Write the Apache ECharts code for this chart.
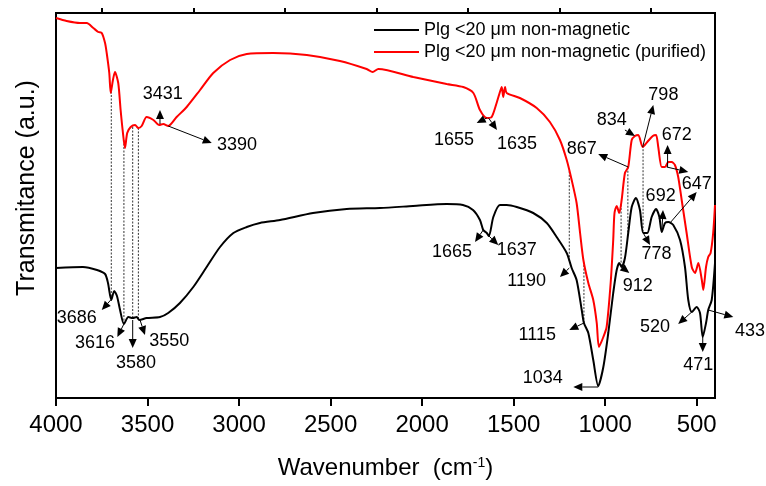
<!DOCTYPE html>
<html>
<head>
<meta charset="utf-8">
<script src="https://cdn.jsdelivr.net/npm/echarts@6/dist/echarts.min.js"></script>
<style>
  html, body { margin: 0; padding: 0; background: #fff; }
  #chart { width: 766px; height: 486px; }
</style>
</head>
<body>
<div id="chart"></div>
<script>
// FTIR spectra, wavenumber (cm-1) and transmittance (a.u., arbitrary scale)
var blackWn = [4000,3853,3776,3732,3716,3698,3682,3667,3650,3629,3605,3581,3559,3545,3505,3432,3387,3323,3250,3177,
  3104,3031,2958,2886,2776,2596,2412,2230,2050,1866,1777,1722,1684,1666,1647,1635,1611,1575,1538,1483,
  1393,1319,1265,1210,1183,1156,1128,1116,1092,1065,1038,1010,983,956,937,923,910,892,874,855,
  832,810,792,770,746,722,704,691,673,655,628,591,564,546,527,500,482,467,449,437,418,400];
var blackT = [130,131,128,124,115,98,107,102,88,74,81,80,81,78,80,81,85,95,111,131,
  151,165,171,175,178,185,189,190,192,194,193,188,178,168,165,162,181,193,193,191,
  185,175,161,145,130,118,88,75,65,38,12,31,65,105,128,135,131,140,165,191,
  200,188,165,165,181,189,181,166,175,176,173,158,131,98,86,91,85,61,75,88,98,135];

var redWn = [4000,3942,3869,3832,3796,3769,3750,3732,3723,3709,3701,3689,3678,3660,3647,3636,3623,3611,3592,3568,
  3550,3532,3505,3468,3436,3414,3387,3341,3286,3213,3141,3049,2958,2813,2630,2449,2303,2270,2239,2048,
  1866,1775,1720,1684,1647,1620,1593,1575,1565,1557,1547,1538,1466,1374,1302,1247,1210,1183,1156,1137,
  1119,1092,1065,1046,1034,1010,992,970,956,949,937,923,910,892,874,855,837,819,795,770,
  740,722,710,691,673,655,637,619,601,582,555,527,509,491,472,464,449,437,424,410,400];
var redT = [380,377,375,375,370,366,365,355,345,325,305,318,326,315,288,268,250,265,271,273,
  270,272,281,278,273,274,272,281,291,308,325,338,344,345,343,337,329,326,329,321,
  314,311,305,288,280,281,295,306,311,301,311,305,300,290,276,258,238,218,195,165,
  138,115,98,75,51,61,71,115,158,185,192,185,198,225,231,258,262,263,251,256,
  262,263,251,231,231,236,236,233,221,198,165,131,125,135,118,108,131,141,145,165,193];

var seriesNames = ['Plg <20 \u03bcm non-magnetic', 'Plg <20 \u03bcm non-magnetic (purified)'];
var majorTicks = [4000,3500,3000,2500,2000,1500,1000,500];
var minorTicks = [3750,3250,2750,2250,1750,1250,750];

// dotted guides between the two spectra
var guideWn = [3698,3629,3581,3550,1196,1116,913,876,793];

// band labels: text, text position (wn, T), arrow from (wn, T), arrow head (wn, T)
var bandLabels = [
  ['3686', 3887,80,  3701,98,  3750,88],
  ['3616', 3787,55,  3629,74,  3665,61],
  ['3580', 3563,35,  3581,78,  3581,50],
  ['3550', 3381,57,  3541,78,  3514,63],
  ['3431', 3417,304, 3432,274, 3432,288],
  ['3390', 3011,253, 3387,272, 3149,255],
  ['1655', 1826,258, 1647,280, 1702,275],
  ['1635', 1482,254, 1637,280, 1591,268],
  ['1665', 1837,146, 1666,168, 1711,156],
  ['1637', 1483,148, 1635,162, 1584,153],
  ['1190', 1429,117, 1196,130, 1247,121],
  ['1115', 1371,63,  1116,75,  1196,68],
  ['1034', 1341,20,  1038,11,  1174,11],
  ['912',  822,112,  910,131,  868,125],
  ['867',  1128,249, 874,231,  1038,244],
  ['834',  964,278,  892,268,  837,262],
  ['798',  682,303,  795,251,  737,293],
  ['672',  609,263,  659,231,  659,253],
  ['647',  500,214,  664,231,  546,226],
  ['',     500,214,  646,175,  500,206],
  ['692',  697,202,  690,167,  684,188],
  ['778',  719,144,  792,165,  755,153],
  ['520',  728,71,   527,86,   601,74],
  ['471',  491,33,   467,61,   467,46],
  ['433',  209,67,   437,88,   300,81]
];

function pairs(xs, ys) {
  var out = [];
  for (var i = 0; i < xs.length; i++) out.push([xs[i], ys[i]]);
  return out;
}

// linear lookup on a descending wavenumber list
function lookup(xs, ys, w) {
  for (var i = 0; i < xs.length - 1; i++) {
    if (xs[i] >= w && w >= xs[i + 1]) {
      var f = (xs[i] - w) / (xs[i] - xs[i + 1]);
      return ys[i] + f * (ys[i + 1] - ys[i]);
    }
  }
  return ys[ys.length - 1];
}

var FONT = '"Liberation Sans", Arial, sans-serif';
var chart = echarts.init(document.getElementById('chart'));

var option = {
  animation: false,
  backgroundColor: '#fff',
  grid: { left: 56, right: 51, top: 13, bottom: 88, show: true, borderColor: '#000', borderWidth: 2 },
  legend: {
    left: 369, top: 16, orient: 'vertical', padding: 5,
    icon: 'rect', itemWidth: 45, itemHeight: 2, itemGap: 4,
    textStyle: { fontSize: 18, fontFamily: FONT, color: '#000' },
    data: seriesNames
  },
  xAxis: [
    {
      type: 'value', min: 400, max: 4000, inverse: true,
      axisLine: { show: true, lineStyle: { color: '#000', width: 2 } },
      axisTick: { show: true, customValues: majorTicks, length: 8, lineStyle: { color: '#000', width: 2 } },
      axisLabel: {
        customValues: majorTicks, fontSize: 24, fontFamily: FONT, color: '#000', margin: 15,
        formatter: function (v) { return String(v); }
      },
      splitLine: { show: false },
      name: '{t|Wavenumber  (cm}{s|-1}{t|)}',
      nameLocation: 'middle', nameGap: 58,
      nameTextStyle: {
        rich: {
          t: { fontSize: 24, fontFamily: FONT, color: '#000' },
          s: { fontSize: 14, fontFamily: FONT, color: '#000', verticalAlign: 'top' }
        }
      }
    },
    {
      type: 'value', min: 400, max: 4000, inverse: true,
      axisLine: { show: false },
      axisTick: { show: true, customValues: minorTicks, length: 5, lineStyle: { color: '#000', width: 2 } },
      axisLabel: { show: false },
      splitLine: { show: false }
    }
  ],
  yAxis: {
    type: 'value', min: 0, max: 385,
    axisLine: { show: true, lineStyle: { color: '#000', width: 2 } },
    axisTick: { show: false },
    axisLabel: { show: false },
    splitLine: { show: false }
  },
  series: [
    {
      name: seriesNames[0], type: 'line', data: pairs(blackWn, blackT), smooth: 0.25,
      symbol: 'none', lineStyle: { color: '#000', width: 2 }, itemStyle: { color: '#000' }, z: 3
    },
    {
      name: seriesNames[1], type: 'line', data: pairs(redWn, redT), smooth: 0.25,
      symbol: 'none', lineStyle: { color: '#ff0000', width: 2 }, itemStyle: { color: '#ff0000' }, z: 2
    }
  ]
};

chart.setOption(option);

// guides, arrows and band labels placed through the chart's own scales
function px(w, t) { return chart.convertToPixel({ seriesIndex: 0 }, [w, t]); }

var elements = [];
guideWn.forEach(function (w) {
  var a = px(w, lookup(blackWn, blackT, w));
  var b = px(w, lookup(redWn, redT, w));
  elements.push({
    type: 'line', z: 1,
    shape: { x1: a[0], y1: a[1], x2: b[0], y2: b[1] },
    style: { stroke: '#333', lineWidth: 1, lineDash: [2, 1.5] }
  });
});

bandLabels.forEach(function (b) {
  var p0 = px(b[3], b[4]);
  var p1 = px(b[5], b[6]);
  var dx = p1[0] - p0[0], dy = p1[1] - p0[1];
  var len = Math.sqrt(dx * dx + dy * dy) || 1;
  var ux = dx / len, uy = dy / len;
  var head = 9, half = 4;
  var bx = p1[0] - ux * head, by = p1[1] - uy * head;
  elements.push({
    type: 'line', z: 10,
    shape: { x1: p0[0], y1: p0[1], x2: bx, y2: by },
    style: { stroke: '#000', lineWidth: 1 }
  });
  elements.push({
    type: 'polygon', z: 10,
    shape: { points: [[p1[0], p1[1]], [bx - uy * half, by + ux * half], [bx + uy * half, by - ux * half]] },
    style: { fill: '#000' }
  });
  if (b[0]) {
    var pt = px(b[1], b[2]);
    elements.push({
      type: 'text', z: 10, x: pt[0], y: pt[1],
      style: { text: b[0], font: '18px ' + FONT, fill: '#000', align: 'center', verticalAlign: 'middle' }
    });
  }
});

elements.push({
  type: 'text', z: 10, x: 27, y: 188, rotation: Math.PI / 2,
  style: { text: 'Transmitance (a.u.)', font: '25px ' + FONT, fill: '#000', align: 'center', verticalAlign: 'middle' }
});

chart.setOption({ graphic: elements });
</script>
</body>
</html>
